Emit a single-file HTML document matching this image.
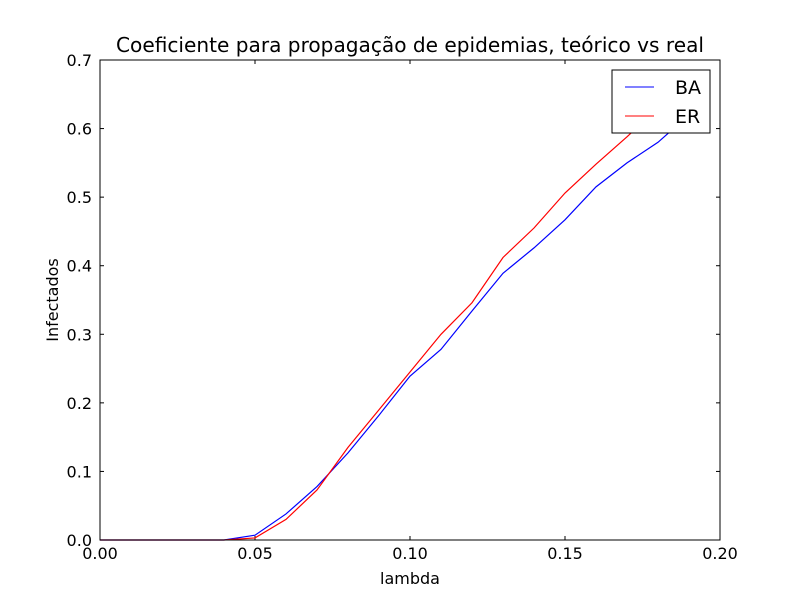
<!DOCTYPE html>
<html><head><meta charset="utf-8"><style>
body{margin:0;background:#fff;}
svg{display:block;font-family:"DejaVu Sans","Liberation Sans",sans-serif;}
</style></head><body>
<svg id="chart" width="800" height="600">
<rect width="800" height="600" fill="#fff"/>
<g id="ticks"></g>
<g id="lines"></g>
<rect x="100" y="60" width="620" height="480" fill="none" stroke="#000" stroke-width="1"/>
<text x="410" y="52" text-anchor="middle" font-size="20" textLength="588" lengthAdjust="spacingAndGlyphs">Coeficiente para propagação de epidemias, teórico vs real</text>
<text x="410" y="584" text-anchor="middle" font-size="16">lambda</text>
<text x="0" y="0" transform="translate(58,300) rotate(-90)" text-anchor="middle" font-size="16">Infectados</text>
<g>
<rect x="612" y="70" width="98" height="63" fill="#fff" stroke="#000" stroke-width="1"/>
<line x1="625" y1="87" x2="654" y2="87" stroke="#0000ff"/>
<text x="675" y="94" font-size="19">BA</text>
<line x1="625" y1="116" x2="654" y2="116" stroke="#ff0000"/>
<text x="675" y="123" font-size="19">ER</text>
</g>
</svg>
<script>
const xValues=[0,0.01,0.02,0.03,0.04,0.05,0.06,0.07,0.08,0.09,0.10,0.11,0.12,0.13,0.14,0.15,0.16,0.17,0.18,0.19];
const baValues=[0,0,0,0,0,0.007,0.038,0.078,0.127,0.182,0.239,0.278,0.334,0.389,0.426,0.467,0.515,0.55,0.58,0.62];
const erValues=[0,0,0,0,0,0.003,0.03,0.073,0.135,0.19,0.245,0.30,0.346,0.412,0.455,0.506,0.548,0.588,0.63,0.66];
const xTicks=["0.00","0.05","0.10","0.15","0.20"];
const yTicks=["0.0","0.1","0.2","0.3","0.4","0.5","0.6","0.7"];
const NS="http://www.w3.org/2000/svg";
const sx=v=>100+(v/0.2)*620;
const sy=v=>540-(v/0.7)*480;
const tg=document.getElementById('ticks');
xTicks.forEach(t=>{
 const x=sx(parseFloat(t));
 [[540,536],[60,64]].forEach(p=>{const l=document.createElementNS(NS,'line');l.setAttribute('x1',x);l.setAttribute('x2',x);l.setAttribute('y1',p[0]);l.setAttribute('y2',p[1]);l.setAttribute('stroke','#000');
 
 
 tg.appendChild(l);});
 const tx=document.createElementNS(NS,'text');tx.setAttribute('x',x);tx.setAttribute('y',559);tx.setAttribute('text-anchor','middle');tx.setAttribute('font-size','16');tx.textContent=t;
 
 
 tg.appendChild(tx);
});
yTicks.forEach(t=>{
 const y=sy(parseFloat(t));
 [[100,104],[720,716]].forEach(p=>{const l=document.createElementNS(NS,'line');l.setAttribute('x1',p[0]);l.setAttribute('x2',p[1]);l.setAttribute('y1',y);l.setAttribute('y2',y);l.setAttribute('stroke','#000');
 
 
 tg.appendChild(l);});
 const tx=document.createElementNS(NS,'text');tx.setAttribute('x',92);tx.setAttribute('y',y+6);tx.setAttribute('text-anchor','end');tx.setAttribute('font-size','16');tx.textContent=t;
 
 
 tg.appendChild(tx);
});
const lg=document.getElementById('lines');
function addLine(vals,color,name){
 const p=document.createElementNS(NS,'polyline');
 p.setAttribute('points',vals.map((v,i)=>sx(xValues[i])+','+sy(v)).join(' '));
 p.setAttribute('fill','none');p.setAttribute('stroke',color);p.setAttribute('stroke-width','1.2');
 
 
 lg.appendChild(p);
}
addLine(baValues,'#0000ff','series-ba');
addLine(erValues,'#ff0000','series-er');
</script>
</body></html>
